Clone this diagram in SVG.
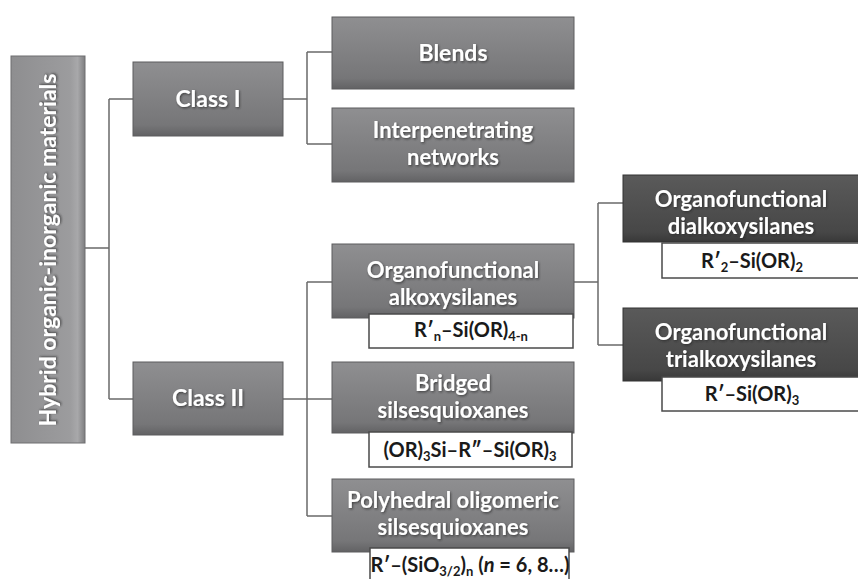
<svg xmlns="http://www.w3.org/2000/svg" width="858" height="579" viewBox="0 0 858 579">
<defs>
<linearGradient id="gGray" x1="0" y1="0" x2="0" y2="1">
<stop offset="0" stop-color="#8f8f91"/><stop offset="0.85" stop-color="#767678"/><stop offset="1" stop-color="#626264"/>
</linearGradient>
<linearGradient id="gDark" x1="0" y1="0" x2="0" y2="1">
<stop offset="0" stop-color="#5a5a5a"/><stop offset="0.85" stop-color="#474747"/><stop offset="1" stop-color="#383838"/>
</linearGradient>
<linearGradient id="gHyb" x1="0" y1="0" x2="1" y2="0">
<stop offset="0" stop-color="#8e8e90"/><stop offset="0.8" stop-color="#9c9c9e"/><stop offset="0.9" stop-color="#a8a8aa"/><stop offset="1" stop-color="#7e7e80"/>
</linearGradient>
<filter id="ts" x="-10%" y="-30%" width="120%" height="160%">
<feDropShadow dx="1" dy="1.2" stdDeviation="0.8" flood-color="#222" flood-opacity="0.7"/>
</filter>
</defs>
<style>
.box{fill:url(#gGray);stroke:#5c5c5e;stroke-width:1}
.dark{fill:url(#gDark);stroke:#333;stroke-width:1}
.hyb{fill:url(#gHyb);stroke:#6e6e70;stroke-width:1}
.fbox{fill:#fff;stroke:#4a4a4a;stroke-width:1.5}
.lbl{font-family:Lato,"Open Sans",sans-serif;font-weight:bold;font-size:22px;fill:#fff;text-anchor:middle;filter:url(#ts)}
.big{font-size:23px}
.fml{font-family:Lato,"Open Sans",sans-serif;font-weight:bold;font-size:20px;fill:#1a1a1a;text-anchor:middle}
.sub{font-size:13px}
.con{fill:none;stroke:#6a6a6a;stroke-width:1.5}
</style>
<g id="connectors" class="con">
<path d="M85,248 H109 M109,99 V399 M109,99 H133 M109,399 H133"/>
<path d="M283,99 H307 M307,52 V144 M307,52 H332 M307,144 H332"/>
<path d="M283,399 H332 M307,282 V516 M307,282 H332 M307,516 H332"/>
<path d="M573,282 H598 M598,203 V345 M598,203 H623 M598,345 H623"/>
</g>
<g id="hybrid">
<rect class="hyb" x="11" y="56" width="74" height="387"/>
<text class="lbl big" transform="translate(56,250) rotate(-90)">Hybrid organic-inorganic materials</text>
</g>
<g id="class1">
<rect class="box" x="133" y="62" width="150" height="74"/>
<text class="lbl big" x="208" y="107">Class I</text>
</g>
<g id="class2">
<rect class="box" x="133" y="362" width="150" height="73"/>
<text class="lbl big" x="208" y="406">Class II</text>
</g>
<g id="blends">
<rect class="box" x="332" y="17" width="242" height="72"/>
<text class="lbl big" x="453" y="61">Blends</text>
</g>
<g id="interpenetrating">
<rect class="box" x="332" y="108" width="242" height="74"/>
<text class="lbl" x="453" y="138">Interpenetrating</text>
<text class="lbl" x="453" y="165">networks</text>
</g>
<g id="alkoxysilanes">
<rect class="box" x="332" y="244" width="242" height="74"/>
<text class="lbl" x="453" y="278">Organofunctional</text>
<text class="lbl" x="453" y="305">alkoxysilanes</text>
<rect class="fbox" x="369" y="314" width="204" height="34"/>
<text class="fml" x="471" y="337">R′<tspan class="sub" dy="4">n</tspan><tspan dy="-4">–Si(OR)</tspan><tspan class="sub" dy="4">4-n</tspan></text>
</g>
<g id="bridged">
<rect class="box" x="332" y="362" width="242" height="71"/>
<text class="lbl" x="453" y="391">Bridged</text>
<text class="lbl" x="453" y="418">silsesquioxanes</text>
<rect class="fbox" x="369" y="432" width="203" height="35"/>
<text class="fml" x="470" y="457">(OR)<tspan class="sub" dy="4">3</tspan><tspan dy="-4">Si–R″–Si(OR)</tspan><tspan class="sub" dy="4">3</tspan></text>
</g>
<g id="polyhedral">
<rect class="box" x="332" y="479" width="242" height="73"/>
<text class="lbl" x="453" y="508">Polyhedral oligomeric</text>
<text class="lbl" x="453" y="535">silsesquioxanes</text>
<rect class="fbox" x="370" y="548" width="199" height="32"/>
<text class="fml" x="470" y="572">R′–(SiO<tspan class="sub" dy="4">3/2</tspan><tspan dy="-4">)</tspan><tspan class="sub" dy="4">n</tspan><tspan dy="-4"> (</tspan><tspan font-style="italic">n</tspan> = 6, 8…)</text>
</g>
<g id="dialkoxysilanes">
<rect class="dark" x="623" y="175" width="240" height="67"/>
<text class="lbl" x="741" y="207">Organofunctional</text>
<text class="lbl" x="741" y="234">dialkoxysilanes</text>
<rect class="fbox" x="662" y="243" width="200" height="35"/>
<text class="fml" x="752" y="268">R′<tspan class="sub" dy="4">2</tspan><tspan dy="-4">–Si(OR)</tspan><tspan class="sub" dy="4">2</tspan></text>
</g>
<g id="trialkoxysilanes">
<rect class="dark" x="623" y="308" width="240" height="73"/>
<text class="lbl" x="741" y="340">Organofunctional</text>
<text class="lbl" x="741" y="367">trialkoxysilanes</text>
<rect class="fbox" x="662" y="377" width="200" height="34"/>
<text class="fml" x="752" y="401">R′–Si(OR)<tspan class="sub" dy="4">3</tspan></text>
</g>
</svg>
